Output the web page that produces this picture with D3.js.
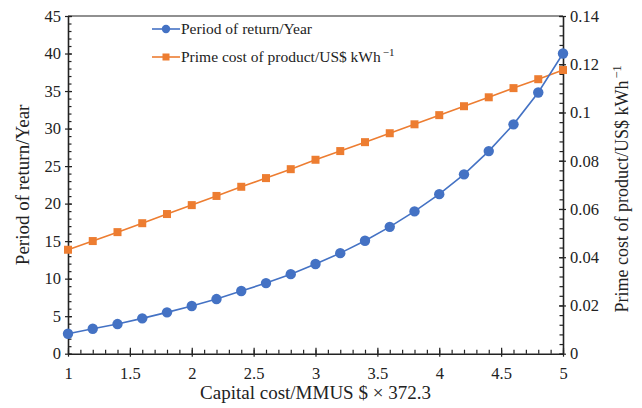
<!DOCTYPE html>
<html>
<head>
<meta charset="utf-8">
<script src="https://cdn.jsdelivr.net/npm/d3@7"></script>
<style>
  html, body { margin: 0; padding: 0; background: #fff; }
  svg { display: block; font-family: "Liberation Serif", "Times New Roman", serif; }
</style>
</head>
<body>
<svg id="chart" width="642" height="408"></svg>
<script>
// Capital cost multiplier (x), payback period (left axis), prime cost (right axis)
const capitalCost = [1, 1.2, 1.4, 1.6, 1.8, 2, 2.2, 2.4, 2.6, 2.8, 3, 3.2, 3.4, 3.6, 3.8, 4, 4.2, 4.4, 4.6, 4.8, 5];
const periodOfReturn = [2.66, 3.33, 3.95, 4.71, 5.51, 6.35, 7.28, 8.35, 9.41, 10.6, 11.95, 13.4, 15.05, 16.9, 18.96, 21.26, 23.9, 27.0, 30.56, 34.8, 40.0];
const primeCost = [0.0431, 0.0467, 0.0504, 0.0541, 0.0579, 0.0616, 0.0654, 0.0692, 0.0728, 0.0765, 0.0804, 0.0840, 0.0877, 0.0914, 0.0951, 0.0989, 0.1026, 0.1063, 0.1101, 0.1138, 0.1176];

const xTicks = [1, 1.5, 2, 2.5, 3, 3.5, 4, 4.5, 5];
const leftTicks = [0, 5, 10, 15, 20, 25, 30, 35, 40, 45];
const rightTicks = [0, 0.02, 0.04, 0.06, 0.08, 0.1, 0.12, 0.14];

const blue = "#4472C4", orange = "#ED7D31", axisColor = "#222";
const svg = d3.select("#chart");
const m = { left: 68, right: 563, top: 16, bottom: 353.7 };

const x = d3.scaleLinear().domain([1, 5]).range([m.left, m.right]);
const yL = d3.scaleLinear().domain([0, 45]).range([m.bottom, m.top]);
const yR = d3.scaleLinear().domain([0, 0.14]).range([m.bottom, m.top]);

// frame top line
svg.append("line").attr("x1", m.left).attr("x2", m.right).attr("y1", m.top).attr("y2", m.top)
  .attr("stroke", axisColor).attr("stroke-width", 1.2);

function styleAxis(g) {
  g.selectAll("path.domain").attr("stroke", axisColor).attr("stroke-width", 1.6);
  g.selectAll("line").attr("stroke", axisColor).attr("stroke-width", 1.2);
  g.selectAll("text").attr("fill", "#222").attr("font-size", 16.5)
    .attr("font-family", "'Liberation Serif', serif");
}

// minor ticks
const xMinor = d3.range(1, 5.0001, 0.1).map(v => +v.toFixed(2));
const lMinor = d3.range(0, 45.0001, 1);
const rMinor = d3.range(0, 0.14001, 0.004).map(v => +v.toFixed(4));

svg.append("g").attr("transform", `translate(0,${m.bottom})`)
  .call(d3.axisBottom(x).tickValues(xMinor).tickSize(-4).tickFormat(""))
  .call(g => g.select(".domain").remove())
  .call(styleAxis);
svg.append("g").attr("transform", `translate(${m.left},0)`)
  .call(d3.axisLeft(yL).tickValues(lMinor).tickSize(-3.5).tickFormat(""))
  .call(g => g.select(".domain").remove())
  .call(styleAxis);
svg.append("g").attr("transform", `translate(${m.right},0)`)
  .call(d3.axisRight(yR).tickValues(rMinor).tickSize(-3.5).tickFormat(""))
  .call(g => g.select(".domain").remove())
  .call(styleAxis);

// major axes
const gx = svg.append("g").attr("transform", `translate(0,${m.bottom})`)
  .call(d3.axisBottom(x).tickValues(xTicks).tickSizeInner(-6).tickSizeOuter(0).tickPadding(14).tickFormat(d3.format("")))
  .call(styleAxis);
gx.selectAll(".tick line").attr("y1", 3);

const gl = svg.append("g").attr("transform", `translate(${m.left},0)`)
  .call(d3.axisLeft(yL).tickValues(leftTicks).tickSizeInner(-4).tickSizeOuter(0).tickPadding(7))
  .call(styleAxis);
gl.selectAll(".tick line").attr("x1", -3);

const gr = svg.append("g").attr("transform", `translate(${m.right},0)`)
  .call(d3.axisRight(yR).tickValues(rightTicks).tickSizeInner(-4).tickSizeOuter(0).tickPadding(7)
    .tickFormat(d => d === 0 ? "0" : String(+d.toFixed(2))))
  .call(styleAxis);
gr.selectAll(".tick line").attr("x1", 3);

// series
const pts = capitalCost.map((c, i) => ({ c, p: periodOfReturn[i], q: primeCost[i] }));

svg.append("path").datum(pts)
  .attr("fill", "none").attr("stroke", orange).attr("stroke-width", 1.6)
  .attr("d", d3.line().x(d => x(d.c)).y(d => yR(d.q)));
svg.selectAll("rect.pc").data(pts).join("rect").attr("class", "pc")
  .attr("x", d => x(d.c) - 4).attr("y", d => yR(d.q) - 4)
  .attr("width", 8).attr("height", 8).attr("fill", orange);

svg.append("path").datum(pts)
  .attr("fill", "none").attr("stroke", blue).attr("stroke-width", 1.6)
  .attr("d", d3.line().x(d => x(d.c)).y(d => yL(d.p)));
svg.selectAll("circle.pr").data(pts).join("circle").attr("class", "pr")
  .attr("cx", d => x(d.c)).attr("cy", d => yL(d.p)).attr("r", 5.2).attr("fill", blue);

// legend
const lg = svg.append("g").attr("font-size", 15.5).attr("fill", "#222");
const legendRows = [
  { y: 29, color: blue, label: "Period of return/Year", shape: "circle" },
  { y: 57, color: orange, label: "Prime cost of product/US$ kWh", sup: "−1", shape: "square" }
];
legendRows.forEach(r => {
  lg.append("line").attr("x1", 152).attr("x2", 180).attr("y1", r.y).attr("y2", r.y)
    .attr("stroke", r.color).attr("stroke-width", 1.6);
  if (r.shape === "circle") lg.append("circle").attr("cx", 166).attr("cy", r.y).attr("r", 4.2).attr("fill", r.color);
  else lg.append("rect").attr("x", 162.5).attr("y", r.y - 3.5).attr("width", 7).attr("height", 7).attr("fill", r.color);
  const t = lg.append("text").attr("x", 181).attr("y", r.y + 5).text(r.label);
  if (r.sup) t.append("tspan").attr("dx", 2).attr("dy", -6).attr("font-size", 11).text(r.sup);
});

// axis titles
svg.append("text").attr("x", (m.left + m.right) / 2).attr("y", 399).attr("text-anchor", "middle")
  .attr("font-size", 19).attr("fill", "#222").attr("xml:space", "preserve")
  .text("Capital cost/MMUS $ × 372.3");

svg.append("text").attr("transform", `translate(29,${(m.top + m.bottom) / 2}) rotate(-90)`)
  .attr("text-anchor", "middle").attr("font-size", 19).attr("fill", "#222").text("Period of return/Year");

const rt = svg.append("text")
  .attr("transform", `translate(628,${(m.top + m.bottom) / 2 + 4}) rotate(-90)`)
  .attr("text-anchor", "middle").attr("font-size", 18).attr("fill", "#222");
rt.text("Prime cost of product/US$ kWh");
rt.append("tspan").attr("dx", 2).attr("dy", -7).attr("font-size", 12.5).text("−1");
</script>
</body>
</html>
